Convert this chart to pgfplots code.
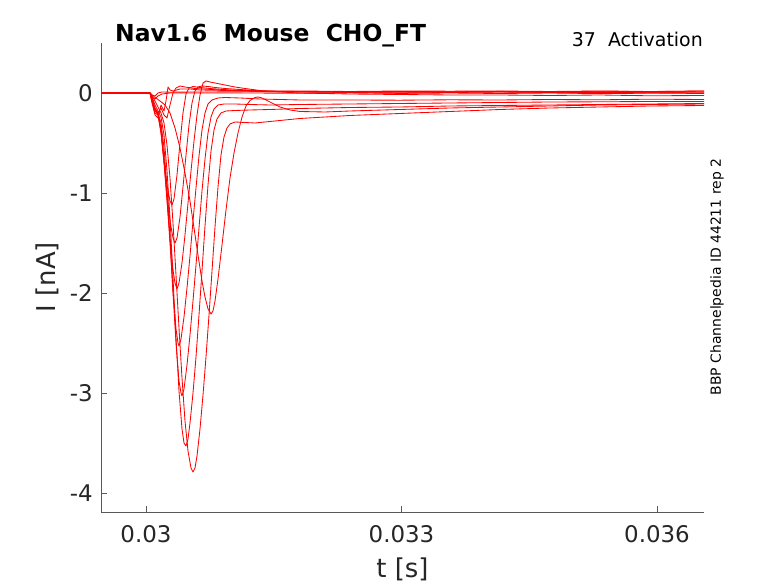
\documentclass[border=0pt]{standalone}
\usepackage{fontspec}
\setmainfont{DejaVu Sans}
\usepackage{pgfplots}
\pgfplotsset{compat=1.18}
\begin{document}
\begin{tikzpicture}
\begin{axis}[
  at={(101bp,71bp)}, anchor=south west,
  scale only axis, width=603bp, height=469bp,
  xmin=0.0294716, xmax=0.0365519,
  ymin=-4.19, ymax=0.5,
  axis x line*=bottom, axis y line*=left,
  axis line style={draw=black!65, line width=0.6pt},
  every tick/.style={draw=black!65, line width=0.6pt},
  tick align=inside, major tick length=6bp,
  xtick={0.03,0.033,0.036}, xticklabels={0.03,0.033,0.036},
  ytick={-4,-3,-2,-1,0}, yticklabels={-4,-3,-2,-1,0},
  scaled x ticks=false, scaled y ticks=false,
  ticklabel style={font=\fontsize{23}{23}\selectfont, text=black!85},
  xticklabel style={inner sep=0pt, anchor=north, yshift=-13bp},
  yticklabel style={inner sep=0pt, anchor=east, xshift=-8bp},
  xlabel={t [s]},
  xlabel style={at={(axis description cs:0.5,-0.1215)}, anchor=center, inner sep=0pt, font=\fontsize{26}{26}\selectfont, text=black!85},
  ylabel={I [nA]},
  ylabel style={at={(axis description cs:-0.0896,0.501)}, anchor=center, rotate=0, inner sep=0pt, font=\fontsize{26}{26}\selectfont, text=black!85},
  every axis title shift=0pt,
  title={Nav1.6\ \ Mouse\ \ CHO\_FT},
  title style={at={(axis description cs:0.0232,1.0)}, anchor=base west, yshift=1bp, inner sep=0pt, font=\bfseries\fontsize{23.5}{23.5}\selectfont},
  extra description/.code={
    \node[anchor=base east, inner sep=0pt, font=\fontsize{19}{19}\selectfont] at (axis description cs:0.9983,0.9915) {37\ \ Activation};
    \node[rotate=90, anchor=center, inner sep=0pt, font=\fontsize{14}{14}\selectfont] at (axis description cs:1.0215,0.501) {BBP Channelpedia ID 44211 rep 2};
  },
  tr/.style={red, line width=0.85pt, line join=round, mark=none},
]
% Z1
\addplot[tr] coordinates {(0.0294716,0.005)(0.0300000,0.004)(0.0300470,0.003)(0.0300705,-0.02)(0.0301057,-0.03)(0.0301409,0.0)(0.0301879,0.01)(0.0302818,0.008)(0.0306341,0.01)(0.0312211,0.012)(0.0318082,0.015)(0.0323953,0.01)(0.0329824,0.015)(0.0335695,0.012)(0.0341566,0.016)(0.0347437,0.012)(0.0353307,0.018)(0.0359178,0.014)(0.0365519,0.02)};
% Z2
\addplot[tr] coordinates {(0.0294716,-0.003)(0.0300000,-0.004)(0.0300470,-0.003)(0.0300705,-0.04)(0.0301057,-0.06)(0.0301409,-0.03)(0.0301879,-0.01)(0.0302818,0.0)(0.0306341,0.0)(0.0312211,0.0)(0.0318082,-0.003)(0.0323953,0.002)(0.0329824,-0.004)(0.0335695,0.0)(0.0341566,-0.005)(0.0347437,0.0)(0.0353307,-0.006)(0.0359178,-0.002)(0.0365519,-0.004)};
% P1
\addplot[tr] coordinates {(0.0294716,0.0)(0.0300000,0.0)(0.0300470,0.0)(0.0300705,-0.1)(0.0301057,-0.22)(0.0301409,-0.25)(0.0301761,-0.12)(0.0302114,-0.18)(0.0302348,-0.08)(0.0302583,0.06)(0.0302818,0.03)(0.0303170,0.02)(0.0303992,0.04)(0.0305166,0.04)(0.0306341,0.03)(0.0309863,0.025)(0.0313386,0.02)(0.0318082,0.02)(0.0323953,0.015)(0.0329824,0.02)(0.0335695,0.018)(0.0341566,0.02)(0.0347437,0.015)(0.0353307,0.02)(0.0359178,0.015)(0.0365519,0.02)};
% P2
\addplot[tr] coordinates {(0.0294716,0.0)(0.0300000,0.0)(0.0300470,0.0)(0.0300705,-0.08)(0.0301057,-0.18)(0.0301409,-0.2)(0.0301761,-0.15)(0.0302114,-0.22)(0.0302466,-0.25)(0.0302818,-0.12)(0.0303170,0.0)(0.0303523,0.05)(0.0303992,0.07)(0.0304579,0.06)(0.0305753,0.045)(0.0308689,0.03)(0.0313386,0.015)(0.0318082,0.01)(0.0329824,0.008)(0.0341566,0.01)(0.0353307,0.005)(0.0365519,0.01)};
% A
\addplot[tr] coordinates {(0.0294716,0)(0.0300000,0)(0.0300470,0)(0.0300705,-0.08)(0.0301057,-0.2)(0.0301409,-0.22)(0.0301761,-0.4)(0.0302114,-0.68)(0.0302466,-0.92)(0.0302818,-1.08)(0.0303053,-1.12)(0.0303288,-1.06)(0.0303640,-0.82)(0.0303992,-0.5)(0.0304344,-0.2)(0.0304697,-0.01)(0.0305049,0.05)(0.0305519,0.065)(0.0306341,0.055)(0.0307515,0.045)(0.0309863,0.03)(0.0313386,0.02)(0.0318082,0.015)(0.0323953,0.012)(0.0329824,0.015)(0.0335695,0.01)(0.0341566,0.012)(0.0347437,0.008)(0.0353307,0.012)(0.0359178,0.008)(0.0365519,0.01)};
% B
\addplot[tr] coordinates {(0.0294716,0)(0.0300000,0)(0.0300470,0)(0.0300705,-0.08)(0.0301057,-0.18)(0.0301409,-0.2)(0.0301761,-0.38)(0.0302114,-0.68)(0.0302466,-1.0)(0.0302818,-1.28)(0.0303170,-1.45)(0.0303405,-1.5)(0.0303640,-1.45)(0.0303992,-1.24)(0.0304344,-0.94)(0.0304697,-0.62)(0.0305049,-0.32)(0.0305401,-0.1)(0.0305753,0.02)(0.0306106,0.06)(0.0306575,0.07)(0.0307280,0.065)(0.0308102,0.055)(0.0309276,0.045)(0.0311037,0.035)(0.0313386,0.02)(0.0318082,0.01)(0.0323953,0.005)(0.0329824,0.0)(0.0335695,0.005)(0.0341566,0.0)(0.0347437,0.004)(0.0353307,-0.002)(0.0359178,0.002)(0.0365519,0.0)};
% C
\addplot[tr] coordinates {(0.0294716,0)(0.0300000,0)(0.0300470,0)(0.0300705,-0.07)(0.0301057,-0.17)(0.0301409,-0.22)(0.0301761,-0.38)(0.0302114,-0.7)(0.0302466,-1.08)(0.0302818,-1.45)(0.0303170,-1.77)(0.0303405,-1.9)(0.0303640,-1.96)(0.0303875,-1.9)(0.0304227,-1.7)(0.0304579,-1.42)(0.0304932,-1.1)(0.0305284,-0.78)(0.0305636,-0.48)(0.0305988,-0.22)(0.0306341,-0.02)(0.0306693,0.1)(0.0307045,0.12)(0.0307515,0.11)(0.0308102,0.1)(0.0309276,0.08)(0.0310450,0.06)(0.0311624,0.045)(0.0313386,0.025)(0.0315734,0.01)(0.0318082,0.0)(0.0323953,-0.01)(0.0329824,-0.015)(0.0335695,-0.02)(0.0341566,-0.02)(0.0347437,-0.025)(0.0353307,-0.02)(0.0359178,-0.028)(0.0365519,-0.025)};
% D
\addplot[tr] coordinates {(0.0294716,0)(0.0300000,0)(0.0300470,0)(0.0300705,-0.06)(0.0301057,-0.16)(0.0301409,-0.2)(0.0301761,-0.35)(0.0302114,-0.65)(0.0302466,-1.05)(0.0302818,-1.5)(0.0303170,-1.98)(0.0303523,-2.36)(0.0303757,-2.5)(0.0303875,-2.53)(0.0304110,-2.46)(0.0304462,-2.24)(0.0304814,-1.95)(0.0305166,-1.63)(0.0305519,-1.28)(0.0305871,-0.95)(0.0306223,-0.63)(0.0306575,-0.37)(0.0306928,-0.2)(0.0307280,-0.11)(0.0307750,-0.07)(0.0308454,-0.05)(0.0309276,-0.045)(0.0311037,-0.05)(0.0313386,-0.06)(0.0315734,-0.065)(0.0318082,-0.07)(0.0323953,-0.07)(0.0329824,-0.072)(0.0335695,-0.068)(0.0341566,-0.07)(0.0347437,-0.065)(0.0353307,-0.068)(0.0359178,-0.062)(0.0365519,-0.065)};
% E
\addplot[tr] coordinates {(0.0294716,0)(0.0300000,0)(0.0300470,0)(0.0300705,-0.05)(0.0301057,-0.15)(0.0301409,-0.2)(0.0301761,-0.3)(0.0302114,-0.55)(0.0302466,-0.95)(0.0302818,-1.45)(0.0303170,-2.0)(0.0303523,-2.5)(0.0303875,-2.88)(0.0304110,-3.0)(0.0304227,-3.03)(0.0304462,-2.96)(0.0304814,-2.72)(0.0305166,-2.42)(0.0305519,-2.08)(0.0305871,-1.72)(0.0306223,-1.35)(0.0306575,-0.98)(0.0306928,-0.66)(0.0307280,-0.4)(0.0307633,-0.24)(0.0307985,-0.16)(0.0308454,-0.12)(0.0309159,-0.11)(0.0310450,-0.11)(0.0312211,-0.115)(0.0314560,-0.12)(0.0318082,-0.115)(0.0323953,-0.11)(0.0329824,-0.105)(0.0335695,-0.1)(0.0341566,-0.095)(0.0347437,-0.09)(0.0353307,-0.088)(0.0359178,-0.085)(0.0365519,-0.085)};
% F
\addplot[tr] coordinates {(0.0294716,0)(0.0300000,0)(0.0300470,0)(0.0300705,-0.04)(0.0301057,-0.12)(0.0301409,-0.18)(0.0301761,-0.24)(0.0302114,-0.42)(0.0302466,-0.78)(0.0302818,-1.25)(0.0303170,-1.85)(0.0303523,-2.45)(0.0303875,-2.98)(0.0304227,-3.36)(0.0304462,-3.5)(0.0304697,-3.53)(0.0304932,-3.46)(0.0305166,-3.3)(0.0305519,-3.0)(0.0305871,-2.64)(0.0306223,-2.22)(0.0306575,-1.78)(0.0306928,-1.33)(0.0307280,-0.92)(0.0307633,-0.58)(0.0307985,-0.37)(0.0308337,-0.26)(0.0308806,-0.2)(0.0309393,-0.18)(0.0310450,-0.175)(0.0312211,-0.17)(0.0314560,-0.165)(0.0318082,-0.155)(0.0323953,-0.145)(0.0329824,-0.14)(0.0335695,-0.13)(0.0341566,-0.125)(0.0347437,-0.12)(0.0353307,-0.115)(0.0359178,-0.11)(0.0365519,-0.105)};
% G
\addplot[tr] coordinates {(0.0294716,0)(0.0300000,0)(0.0300470,0)(0.0300705,-0.03)(0.0301057,-0.08)(0.0301409,-0.14)(0.0301761,-0.2)(0.0302114,-0.3)(0.0302466,-0.52)(0.0302818,-0.85)(0.0303170,-1.3)(0.0303523,-1.82)(0.0303875,-2.35)(0.0304227,-2.85)(0.0304579,-3.28)(0.0304932,-3.58)(0.0305284,-3.75)(0.0305519,-3.79)(0.0305753,-3.75)(0.0305988,-3.63)(0.0306341,-3.36)(0.0306693,-3.02)(0.0307045,-2.64)(0.0307398,-2.22)(0.0307750,-1.78)(0.0308102,-1.34)(0.0308454,-0.94)(0.0308806,-0.62)(0.0309159,-0.44)(0.0309511,-0.35)(0.0309863,-0.31)(0.0310450,-0.29)(0.0311624,-0.295)(0.0312798,-0.3)(0.0314560,-0.285)(0.0315734,-0.275)(0.0318082,-0.255)(0.0321018,-0.24)(0.0323953,-0.225)(0.0329824,-0.205)(0.0335695,-0.185)(0.0341566,-0.165)(0.0347437,-0.15)(0.0353307,-0.14)(0.0359178,-0.13)(0.0365519,-0.125)};
% H
\addplot[tr] coordinates {(0.0294716,0)(0.0300000,0)(0.0300470,0)(0.0300705,-0.02)(0.0301174,-0.05)(0.0301644,-0.08)(0.0302231,-0.12)(0.0302818,-0.2)(0.0303405,-0.35)(0.0303992,-0.55)(0.0304579,-0.8)(0.0305166,-1.08)(0.0305636,-1.35)(0.0306106,-1.62)(0.0306575,-1.88)(0.0306928,-2.04)(0.0307280,-2.16)(0.0307633,-2.21)(0.0307867,-2.18)(0.0308102,-2.08)(0.0308454,-1.86)(0.0308924,-1.52)(0.0309393,-1.17)(0.0309863,-0.85)(0.0310333,-0.6)(0.0310802,-0.4)(0.0311272,-0.24)(0.0311742,-0.13)(0.0312211,-0.075)(0.0312798,-0.045)(0.0313151,-0.04)(0.0313620,-0.05)(0.0314560,-0.09)(0.0315734,-0.14)(0.0316908,-0.17)(0.0318082,-0.185)(0.0321018,-0.19)(0.0323953,-0.18)(0.0329824,-0.165)(0.0335695,-0.15)(0.0341566,-0.14)(0.0347437,-0.13)(0.0353307,-0.12)(0.0359178,-0.115)(0.0365519,-0.11)};
\end{axis}
\pgfresetboundingbox
\path (0,0) rectangle (778bp,583bp);
\end{tikzpicture}
\end{document}
